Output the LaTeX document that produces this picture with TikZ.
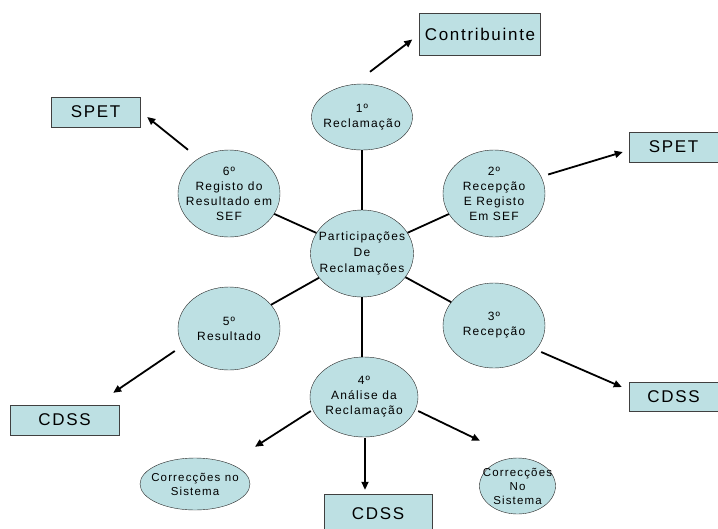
\documentclass[tikz,border=0pt]{standalone}
\usepackage{fontspec}
\setmainfont{Liberation Sans}[LetterSpace=10]
\usetikzlibrary{shapes.geometric,arrows.meta}
\definecolor{stagefill}{RGB}{189,224,227}

\begin{document}
\begin{tikzpicture}[x=1pt, y=-1pt,
    >={Triangle[length=8pt,width=7pt]},
    box/.style={draw=black!75, fill=stagefill, inner sep=0pt, font=\fontsize{17}{20}\selectfont},
    oval/.style={draw=black!85, fill=stagefill, ellipse, inner sep=0pt},
    txt/.style={align=center, inner sep=0pt, font=\fontsize{12}{15}\selectfont},
    stage/.style={oval, label={[txt]center:{#1}}},
    fix/.style={oval, label={[txt, font=\fontsize{11.5}{14}\selectfont]center:{#1}}},
    link/.style={line width=1.8pt},
    arr/.style={->, line width=1.8pt}]
    \useasboundingbox (0,0) rectangle (718,528);

    % centre
    \node[oval, minimum width=103pt, minimum height=87pt,
          label={[txt, font=\fontsize{12}{16}\selectfont]center:{Participações\\De\\Reclamações}}] (hub) at (362,253.5) {};

    % stages
    \node[stage={1º\\Reclamação}, minimum width=101pt, minimum height=66pt] (s1) at (362,117) {};
    \node[stage={2º\\Recepção\\E Registo\\Em SEF}, minimum width=102pt, minimum height=87pt] (s2) at (494,193.5) {};
    \node[stage={3º\\Recepção}, minimum width=102pt, minimum height=85pt] (s3) at (494,325.5) {};
    \node[stage={4º\\Análise da\\Reclamação}, minimum width=108pt, minimum height=80pt] (s4) at (364,397) {};
    \node[stage={5º\\Resultado}, minimum width=102pt, minimum height=83pt] (s5) at (229,328.5) {};
    \node[stage={6º\\Registo do\\Resultado em\\SEF}, minimum width=102pt, minimum height=87pt] (s6) at (229,193.5) {};

    % outcomes
    \node[fix={Correcções no\\Sistema}, minimum width=110pt, minimum height=52pt] (fixL) at (195,484) {};
    \node[fix={Correcções\\No\\Sistema}, minimum width=76pt, minimum height=56pt] (fixR) at (517.5,486) {};

    % parties
    \node[box, minimum width=121pt, minimum height=42pt] (contrib) at (480,34.5) {Contribuinte};
    \node[box, minimum width=89pt, minimum height=30pt] (spetL) at (95.5,112) {SPET};
    \node[box, minimum width=89pt, minimum height=30pt] (spetR) at (673.5,147) {SPET};
    \node[box, minimum width=89pt, minimum height=29pt] (cdssR) at (673.5,396.5) {CDSS};
    \node[box, minimum width=109pt, minimum height=30pt] (cdssL) at (64.5,420) {CDSS};
    \node[box, minimum width=108pt, minimum height=40pt] (cdssB) at (378,514) {CDSS};

    \draw[link] (hub) -- (s1);
    \draw[link] (hub) -- (s2);
    \draw[link] (hub) -- (s3);
    \draw[link] (hub.south) -- (hub.south |- s4.north);
    \draw[link] (hub) -- (s5);
    \draw[link] (hub) -- (s6);

    \draw[arr] ([shift={(8,-12)}]s1.north) -- ([shift={(-7,5)}]contrib.west);
    \draw[arr] ([shift={(3,-19)}]s2.east) -- ([shift={(-6,5)}]spetR.west);
    \draw[arr] ([shift={(-4,26.5)}]s3.east) -- ([shift={(-7,-9.5)}]cdssR.west);
    \draw[arr] ([shift={(1,1)}]s4.south) -- ([shift={(-13,-4)}]cdssB.north);
    \draw[arr] ([shift={(1,14)}]s4.west) -- ([shift={(60,-11)}]fixL.north);
    \draw[arr] ([shift={(0,14)}]s4.east) -- ([shift={(-37.5,-17)}]fixR.north);
    \draw[arr] ([shift={(-3,22.5)}]s5.west) -- ([shift={(-6,-12)}]cdssL.north east);
    \draw[arr] ([shift={(-41,0)}]s6.north) -- ([shift={(7,5)}]spetL.east);

\end{tikzpicture}
\end{document}
